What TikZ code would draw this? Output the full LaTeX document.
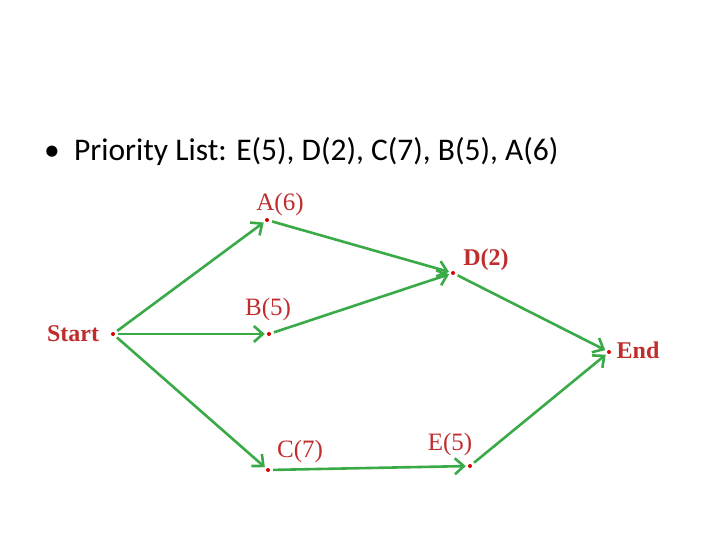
\documentclass[tikz,border=0pt]{standalone}
\usepackage{fontspec}
\setmainfont{Liberation Serif}
\newfontfamily\titlefont{Carlito}
\usetikzlibrary{arrows.meta}
\definecolor{edgegreen}{RGB}{58,170,72}
\definecolor{labred}{RGB}{192,45,45}
\tikzset{
  x=1pt,y=-1pt,
  pt/.style={circle,fill=red!85!black,inner sep=0pt,minimum size=4pt},
  lab/.style={text=labred,font=\fontsize{25}{27}\selectfont,inner sep=0pt},
  blab/.style={lab,font=\bfseries\fontsize{24}{27}\selectfont},
  edge/.style={draw=edgegreen,line width=2.6pt,-{Straight Barb[length=9pt,width=16pt,line width=2.6pt]},shorten >=2pt,shorten <=3pt}
}
\begin{document}
\begin{tikzpicture}
\useasboundingbox (0,0) rectangle (720,540);
\node[anchor=west,inner sep=0pt,font=\titlefont\fontsize{31.5}{36}\selectfont] (title) at (44,152) {\textbullet\ \ Priority List: E(5), D(2), C(7), B(5), A(6)};
\node[pt] (S) at (113,334) {};
\node[pt] (A) at (267,220) {};
\node[pt] (B) at (269,334) {};
\node[pt] (C) at (268,470) {};
\node[pt] (D) at (453,273) {};
\node[pt] (E) at (470,466) {};
\node[pt] (N) at (609,352) {};
\node[blab] (lS) at (73,334) {Start};
\node[lab] (lA) at (280,204) {A(6)};
\node[lab] (lB) at (268,309) {B(5)};
\node[lab] (lC) at (300,451) {C(7)};
\node[blab] (lD) at (486,260) {D(2)};
\node[lab] (lE) at (450,444) {E(5)};
\node[blab] (lN) at (638,350) {End};
\draw[edge] (S) -- (A);
\draw[edge] (S) -- (B);
\draw[edge] (S) -- (C);
\draw[edge] (A) -- (D);
\draw[edge] (B) -- (D);
\draw[edge] (D) -- (N);
\draw[edge] (C) -- (E);
\draw[edge] (E) -- (N);
\end{tikzpicture}
\end{document}
